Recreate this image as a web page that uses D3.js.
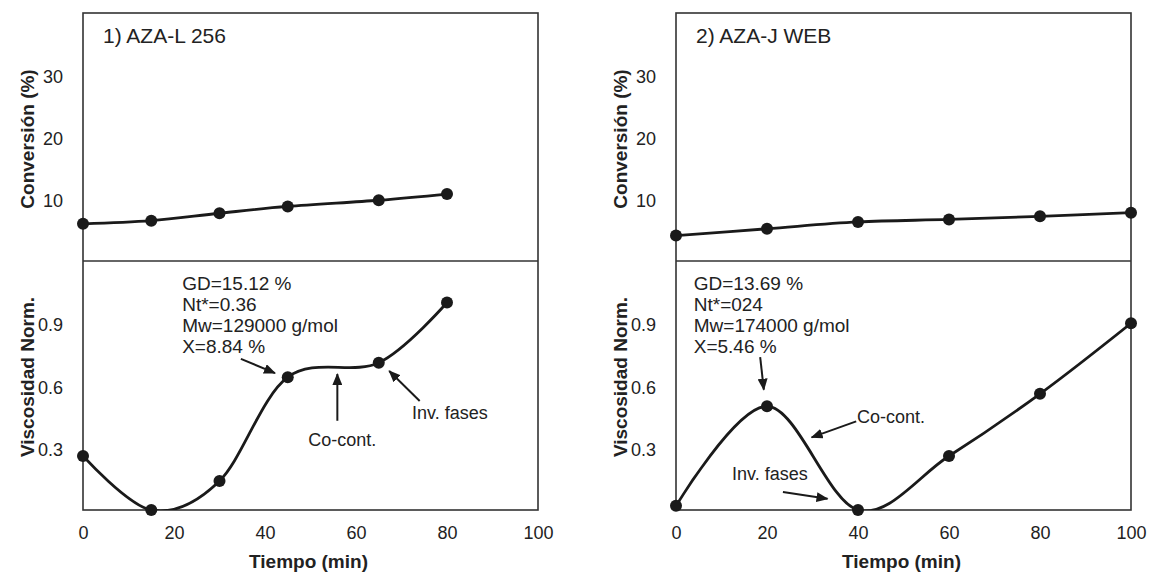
<!DOCTYPE html>
<html>
<head>
<meta charset="utf-8">
<script src="https://cdn.jsdelivr.net/npm/d3@7"></script>
<style>
  body { margin: 0; background: #fff; }
  text { font-family: 'Liberation Sans', Arial, sans-serif; fill: #222; }
</style>
</head>
<body>
<div class="container"></div>
<script>
const width = 1151;
const height = 575;

// datos
const tiempo1 = [0, 15, 30, 45, 65, 80];
const conversion1 = [6.0, 6.5, 7.7, 8.8, 9.8, 10.8];
const viscosidad1 = [0.26, 0.0, 0.14, 0.64, 0.71, 1.0];

const tiempo2 = [0, 20, 40, 60, 80, 100];
const conversion2 = [4.1, 5.2, 6.3, 6.7, 7.2, 7.8];
const viscosidad2 = [0.02, 0.5, 0.0, 0.26, 0.56, 0.9];

const xTicks = [0, 20, 40, 60, 80, 100];
const convTicks = [10, 20, 30];
const viscTicks = [0.3, 0.6, 0.9];

const titulos = ['1) AZA-L 256', '2) AZA-J WEB'];
const info1 = ['GD=15.12 %', 'Nt*=0.36', 'Mw=129000 g/mol', 'X=8.84 %'];
const info2 = ['GD=13.69 %', 'Nt*=024', 'Mw=174000 g/mol', 'X=5.46 %'];

const svg = d3.select('.container')
  .append('svg')
  .attr('width', width)
  .attr('height', height);

svg.append('rect')
  .attr('width', width)
  .attr('height', height)
  .attr('fill', '#fff');

// punta de flecha
svg.append('defs')
  .append('marker')
  .attr('id', 'flecha')
  .attr('viewBox', '0 0 12 10')
  .attr('refX', 11)
  .attr('refY', 5)
  .attr('markerWidth', 12)
  .attr('markerHeight', 10)
  .attr('markerUnits', 'userSpaceOnUse')
  .attr('orient', 'auto')
  .append('path')
  .attr('d', 'M0,0 L12,5 L0,10 Z')
  .attr('fill', '#1a1a1a');

const yTop = 13, yMid = 261, yBottom = 510;

function dibujarPanel(cfg) {
  const g = svg.append('g');
  const x = d3.scaleLinear().domain([0, 100]).range([cfg.x0, cfg.x1]);
  const yC = d3.scaleLinear().domain([0, 40]).range([yMid, yTop]);
  const yV = d3.scaleLinear().domain([0, 1.2]).range([yBottom, yMid]);

  // clips
  const idA = 'clipA' + cfg.id, idB = 'clipB' + cfg.id;
  g.append('clipPath').attr('id', idA)
    .append('rect').attr('x', cfg.x0).attr('y', yTop)
    .attr('width', cfg.x1 - cfg.x0).attr('height', yMid - yTop);
  g.append('clipPath').attr('id', idB)
    .append('rect').attr('x', cfg.x0).attr('y', yMid)
    .attr('width', cfg.x1 - cfg.x0).attr('height', yBottom - yMid);

  // ejes
  const ejeC = g.append('g')
    .attr('transform', `translate(${cfg.x0},0)`)
    .call(d3.axisLeft(yC).tickValues(convTicks).tickSize(0).tickPadding(20));
  const ejeV = g.append('g')
    .attr('transform', `translate(${cfg.x0},0)`)
    .call(d3.axisLeft(yV).tickValues(viscTicks).tickSize(0).tickPadding(20)
      .tickFormat(d3.format('.1f')));
  const ejeX = g.append('g')
    .attr('transform', `translate(0,${yBottom})`)
    .call(d3.axisBottom(x).tickValues(xTicks).tickSize(0).tickPadding(16));
  [ejeC, ejeV, ejeX].forEach(e => {
    e.select('.domain').remove();
    e.selectAll('text')
      .attr('font-size', '18px')
      .attr('font-family', "'Liberation Sans', Arial, sans-serif")
      .attr('fill', '#222');
  });
  ejeC.selectAll('text').attr('dy', '0.42em');
  ejeV.selectAll('text').attr('dy', '0.42em');

  // marco
  g.append('rect')
    .attr('x', cfg.x0).attr('y', yTop)
    .attr('width', cfg.x1 - cfg.x0).attr('height', yBottom - yTop)
    .attr('fill', 'none').attr('stroke', '#333').attr('stroke-width', 1.6);
  g.append('line')
    .attr('x1', cfg.x0).attr('x2', cfg.x1)
    .attr('y1', yMid).attr('y2', yMid)
    .attr('stroke', '#333').attr('stroke-width', 1.6);

  // titulos de ejes
  g.append('text')
    .attr('transform', `translate(${cfg.x0 - 49},139) rotate(-90)`)
    .attr('text-anchor', 'middle')
    .attr('font-size', '19px').attr('font-weight', 'bold')
    .text('Conversión (%)');
  g.append('text')
    .attr('transform', `translate(${cfg.x0 - 49},377) rotate(-90)`)
    .attr('text-anchor', 'middle')
    .attr('font-size', '19px').attr('font-weight', 'bold')
    .text('Viscosidad Norm.');
  g.append('text')
    .attr('x', (cfg.x0 + cfg.x1) / 2 - 2)
    .attr('y', 568)
    .attr('text-anchor', 'middle')
    .attr('font-size', '19px').attr('font-weight', 'bold')
    .text('Tiempo (min)');

  // titulo del panel
  g.append('text')
    .attr('x', cfg.x0 + 20).attr('y', 43)
    .attr('font-size', '21px')
    .text(cfg.titulo);

  const curva = d3.curveCardinal.tension(0);
  const datosC = cfg.t.map((t, i) => [t, cfg.conv[i]]);
  const datosV = cfg.t.map((t, i) => [t, cfg.visc[i]]);

  g.append('path')
    .datum(datosC)
    .attr('clip-path', `url(#${idA})`)
    .attr('fill', 'none').attr('stroke', '#1a1a1a').attr('stroke-width', 2.8)
    .attr('d', d3.line().x(d => x(d[0])).y(d => yC(d[1])).curve(curva));
  g.append('path')
    .datum(datosV)
    .attr('clip-path', `url(#${idB})`)
    .attr('fill', 'none').attr('stroke', '#1a1a1a').attr('stroke-width', 2.8)
    .attr('d', d3.line().x(d => x(d[0])).y(d => yV(d[1])).curve(curva));

  g.selectAll('.pC').data(datosC).enter().append('circle')
    .attr('cx', d => x(d[0])).attr('cy', d => yC(d[1])).attr('r', 6)
    .attr('fill', '#1a1a1a');
  g.selectAll('.pV').data(datosV).enter().append('circle')
    .attr('cx', d => x(d[0])).attr('cy', d => yV(d[1])).attr('r', 6)
    .attr('fill', '#1a1a1a');

  // info
  const info = g.append('text')
    .attr('x', x(cfg.infoX)).attr('y', 290)
    .attr('font-size', '19px');
  cfg.info.forEach((l, i) => {
    info.append('tspan').attr('x', x(cfg.infoX)).attr('y', 290 + i * 21).text(l);
  });

  // flechas
  cfg.flechas.forEach(f => {
    g.append('line')
      .attr('x1', x(f[0])).attr('y1', yV(f[1]))
      .attr('x2', x(f[2])).attr('y2', yV(f[3]))
      .attr('stroke', '#1a1a1a').attr('stroke-width', 2)
      .attr('marker-end', 'url(#flecha)');
  });
  cfg.etiquetas.forEach(e => {
    g.append('text')
      .attr('x', x(e[0])).attr('y', yV(e[1]))
      .attr('text-anchor', e[3])
      .attr('font-size', '18px')
      .text(e[2]);
  });
}

dibujarPanel({
  id: 1, x0: 83, x1: 538, titulo: titulos[0],
  t: tiempo1, conv: conversion1, visc: viscosidad1,
  info: info1, infoX: 21.8,
  flechas: [[34.7, 0.728, 42.2, 0.66], [55.9, 0.43, 55.9, 0.655], [74, 0.525, 67.3, 0.67]],
  etiquetas: [[57, 0.31, 'Co-cont.', 'middle'], [72.3, 0.44, 'Inv. fases', 'start']]
});

dibujarPanel({
  id: 2, x0: 676, x1: 1131, titulo: titulos[1],
  t: tiempo2, conv: conversion2, visc: viscosidad2,
  info: info2, infoX: 3.9,
  flechas: [[18.5, 0.737, 19.3, 0.58], [39.6, 0.427, 29.8, 0.35], [23.5, 0.087, 33.3, 0.054]],
  etiquetas: [[39.8, 0.42, 'Co-cont.', 'start'], [12.3, 0.145, 'Inv. fases', 'start']]
});
</script>
</body>
</html>
